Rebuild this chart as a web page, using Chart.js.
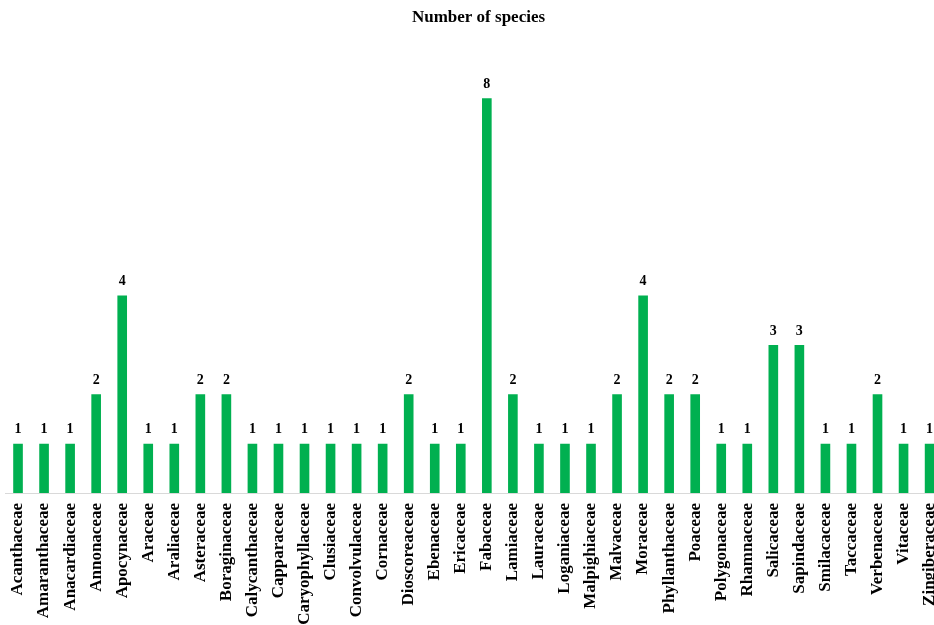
<!DOCTYPE html>
<html>
<head>
<meta charset="utf-8">
<script src="https://cdn.jsdelivr.net/npm/chart.js@4/dist/chart.umd.min.js"></script>
<style>
  body { margin: 0; background: #fff; overflow: hidden; }
</style>
</head>
<body>
<canvas id="speciesChart" width="952" height="625"></canvas>
<script>
const families = ['Acanthaceae', 'Amaranthaceae', 'Anacardiaceae', 'Annonaceae', 'Apocynaceae', 'Araceae',
    'Araliaceae', 'Asteraceae', 'Boraginaceae', 'Calycanthaceae', 'Capparaceae', 'Caryophyllaceae',
    'Clusiaceae', 'Convolvulaceae', 'Cornaceae', 'Dioscoreaceae', 'Ebenaceae', 'Ericaceae', 'Fabaceae',
    'Lamiaceae', 'Lauraceae', 'Loganiaceae', 'Malpighiaceae', 'Malvaceae', 'Moraceae', 'Phyllanthaceae',
    'Poaceae', 'Polygonaceae', 'Rhamnaceae', 'Salicaceae', 'Sapindaceae', 'Smilacaceae', 'Taccaceae',
    'Verbenaceae', 'Vitaceae', 'Zingiberaceae'];
const speciesCount = [1, 1, 1, 2, 4, 1, 1, 2, 2, 1, 1, 1, 1, 1, 1, 2, 1, 1, 8, 2, 1, 1, 1, 2, 4, 2, 2, 1, 1, 3, 3, 1, 1, 2, 1, 1];

const serif = '"Liberation Serif", "Times New Roman", serif';

// draws the number on top of each bar
const valueLabels = {
    id: 'valueLabels',
    afterDatasetsDraw(chart) {
        const ctx = chart.ctx;
        const meta = chart.getDatasetMeta(0);
        ctx.save();
        ctx.font = 'bold 14px ' + serif;
        ctx.fillStyle = '#000';
        ctx.textAlign = 'center';
        ctx.textBaseline = 'bottom';
        meta.data.forEach((bar, i) => {
            ctx.fillText(speciesCount[i], bar.x, bar.y - 7);
        });
        ctx.restore();
    }
};

new Chart(document.getElementById('speciesChart'), {
    type: 'bar',
    data: {
        labels: families,
        datasets: [{
            label: 'Number of species',
            data: speciesCount,
            backgroundColor: '#00b050',
            barPercentage: 0.37,
            categoryPercentage: 1
        }]
    },
    options: {
        responsive: false,
        animation: false,
        layout: { padding: { left: 5, right: 0, top: 0, bottom: 0 } },
        plugins: {
            legend: { display: false },
            tooltip: { enabled: false },
            title: {
                display: true,
                text: 'Number of species',
                color: '#000',
                font: { family: serif, size: 17, weight: 'bold' },
                padding: { top: 7, bottom: 21.5 }
            }
        },
        scales: {
            x: {
                grid: { display: false },
                border: { display: true, color: '#d9d9d9', width: 1 },
                ticks: {
                    color: '#000',
                    font: { family: serif, size: 17, weight: 'bold' },
                    minRotation: 90,
                    maxRotation: 90,
                    autoSkip: false,
                    padding: 2
                },
                afterFit(scale) { scale.height = 132; }
            },
            y: {
                display: false,
                min: 0,
                max: 9
            }
        }
    },
    plugins: [valueLabels]
});
</script>
</body>
</html>
